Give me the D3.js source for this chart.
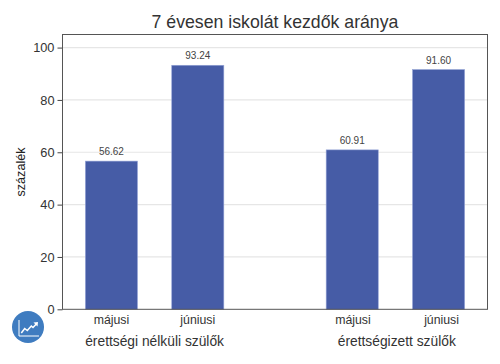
<!DOCTYPE html>
<html><head><meta charset="utf-8">
<script src="https://cdn.jsdelivr.net/npm/d3@7"></script>
<style>html,body{margin:0;padding:0;background:#fff}svg{display:block}text{font-family:"Liberation Sans",Arial,sans-serif}</style>
</head><body><div id="c"></div>
<script>
const chartTitle = "7 évesen iskolát kezdők aránya";
const yLabel = "százalék";
const groups = ["érettségi nélküli szülők", "érettségizett szülők"];
const months = ["májusi", "júniusi"];
const valuesA = [56.62, 93.24];
const valuesB = [60.91, 91.60];
const yTicks = [0, 20, 40, 60, 80, 100];
const series = [valuesA, valuesB];

const W = 500, H = 364;
const L = 62.5, R = 487.5, T = 34.5, B = 309.3;
const svg = d3.select("#c").append("svg").attr("width", W).attr("height", H);
const y = d3.scaleLinear().domain([0, 105]).range([B, T]);
const x0 = d3.scaleBand().domain(groups).range([L, R]).paddingInner(0.283).paddingOuter(0.024);
const x1 = d3.scaleBand().domain(months).range([0, x0.bandwidth()]).paddingInner(0.397).paddingOuter(0.198);

svg.append("g").selectAll("line").data(yTicks.slice(1)).join("line")
  .attr("x1", L).attr("x2", R).attr("y1", d => y(d)).attr("y2", d => y(d))
  .attr("stroke", "#e6e6e6").attr("stroke-width", 1.2);

const g = svg.append("g").selectAll("g").data(groups).join("g")
  .attr("transform", d => `translate(${x0(d)},0)`);
g.each(function(gr, i) {
  const sel = d3.select(this);
  const rows = months.map((m, j) => ({m, v: series[i][j], j}));
  sel.selectAll("rect").data(rows).join("rect")
    .attr("x", d => x1(d.m)).attr("width", x1.bandwidth())
    .attr("y", d => y(d.v)).attr("height", d => B - y(d.v))
    .attr("fill", "#465ca6").attr("stroke", "#93a3d6").attr("stroke-width", 0.6);
  sel.selectAll("text.v").data(rows).join("text").attr("class", "v")
    .attr("x", d => x1(d.m) + x1.bandwidth() / 2).attr("y", d => y(d.v) - 6)
    .attr("text-anchor", "middle").attr("font-size", 10).attr("fill", "#444")
    .text(d => d.v.toFixed(2));
  sel.selectAll("text.m").data(rows).join("text").attr("class", "m")
    .attr("x", d => x1(d.m) + x1.bandwidth() / 2 + (i === 1 ? (d.j === 1 ? 3 : 0.7) : 0)).attr("y", 324)
    .attr("text-anchor", "middle").attr("font-size", 12.3).attr("fill", "#333")
    .text(d => d.m);
  sel.append("text").attr("x", x0.bandwidth() / 2 + (i === 1 ? 1.4 : 0)).attr("y", 346)
    .attr("text-anchor", "middle").attr("font-size", 13.8).attr("fill", "#333").text(gr);
});

const axis = d3.axisLeft(y).tickValues(yTicks).tickSize(5).tickPadding(3);
const ag = svg.append("g").attr("transform", `translate(${L},0)`).call(axis);
ag.select(".domain").remove();
ag.selectAll("line").attr("stroke", "#444");
ag.selectAll("text").attr("font-size", 12.8).attr("fill", "#333").attr("font-family", '"Liberation Sans",Arial,sans-serif');

svg.append("rect").attr("x", L).attr("y", T).attr("width", R - L).attr("height", B - T)
  .attr("fill", "none").attr("stroke", "#555").attr("stroke-width", 1);

svg.append("text").attr("x", 275).attr("y", 27.5).attr("text-anchor", "middle")
  .attr("font-size", 17.7).attr("fill", "#333").text(chartTitle);
svg.append("text").attr("transform", "translate(25,172) rotate(-90)").attr("text-anchor", "middle")
  .attr("font-size", 12.6).attr("fill", "#222").text(yLabel);

const logo = svg.append("g").attr("transform", "translate(28,327)");
logo.append("circle").attr("r", 16).attr("fill", "#3f7cc0");
logo.append("path").attr("d", "M-9,-7V9H11").attr("fill", "none").attr("stroke", "#fff").attr("stroke-width", 1);
logo.append("path").attr("d", "M-6.7,6L-3.3,1.5L-0.7,3.5L3.3,-1L5,0.5L9,-3.7").attr("fill", "none").attr("stroke", "#fff").attr("stroke-width", 1.5);
logo.append("path").attr("d", "M5.5,-4.5L10,-5L9.5,-0.5Z").attr("fill", "#fff");
</script></body></html>
